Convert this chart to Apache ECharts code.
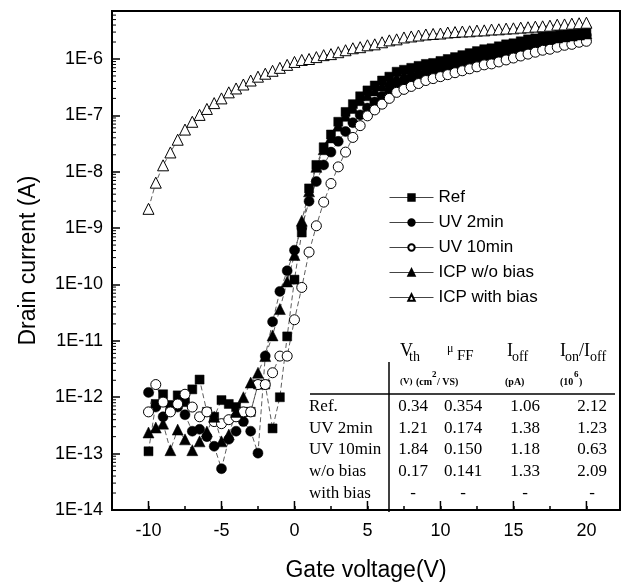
<!DOCTYPE html>
<html><head><meta charset="utf-8">
<script src="https://cdn.jsdelivr.net/npm/echarts@6/dist/echarts.min.js"></script>
<style>html,body{margin:0;padding:0;background:#fff}#c{width:624px;height:587px}</style>
</head><body><div id="c"></div>
<script>
const gateVoltage = [-10,-9.5,-9,-8.5,-8,-7.5,-7,-6.5,-6,-5.5,-5,-4.5,-4,-3.5,-3,-2.5,-2,-1.5,-1,-0.5,
  0,0.5,1,1.5,2,2.5,3,3.5,4,4.5,5,5.5,6,6.5,7,7.5,8,8.5,9,9.5,10,10.5,11,11.5,12,12.5,13,13.5,14,14.5,15,15.5,16,16.5,17,17.5,18,18.5,19,19.5,20];

const refCurrent = [1.1e-13,7.6e-13,1.13e-12,7.3e-13,1.08e-12,8.2e-13,1.38e-12,2.06e-12,5.5e-13,4.5e-13,8.9e-13,7.6e-13,6.7e-13,5.5e-13,5.5e-13,1.68e-12,1.68e-12,2.8e-13,1.0e-12,1.2e-11,
  1.22e-10,8.35e-10,5.06e-9,1.32e-8,2.72e-8,4.58e-8,7.7e-8,1.15e-7,1.58e-7,2.18e-7,2.77e-7,3.39e-7,4.15e-7,4.86e-7,5.94e-7,6.44e-7,6.97e-7,7.55e-7,8.18e-7,8.51e-7,
  9.23e-7,1.0e-6,1.08e-6,1.17e-6,1.27e-6,1.38e-6,1.49e-6,1.55e-6,1.68e-6,1.82e-6,1.9e-6,2.06e-6,2.23e-6,2.32e-6,2.51e-6,2.61e-6,2.72e-6,2.83e-6,2.95e-6,3.07e-6,3.19e-6];

const uv2Current = [1.22e-12,6.7e-13,4.5e-13,5.9e-13,6.7e-13,4.9e-13,2.5e-13,2.7e-13,2.0e-13,1.35e-13,5.4e-14,1.8e-13,2.5e-13,3.7e-13,2.5e-13,1.02e-13,5.4e-12,2.18e-11,7.55e-11,1.75e-10,
  4.06e-10,1.02e-9,3.0e-9,6.7e-9,1.32e-8,2.23e-8,3.46e-8,5.16e-8,7.41e-8,1.02e-7,1.35e-7,1.72e-7,2.18e-7,2.77e-7,3.53e-7,3.98e-7,4.49e-7,5.06e-7,5.48e-7,5.94e-7,
  6.44e-7,6.97e-7,7.55e-7,8.18e-7,8.87e-7,9.62e-7,1.04e-6,1.13e-6,1.22e-6,1.32e-6,1.38e-6,1.49e-6,1.62e-6,1.75e-6,1.82e-6,1.98e-6,2.06e-6,2.23e-6,2.32e-6,2.51e-6,2.61e-6];

const uv10Current = [5.5e-13,1.68e-12,8.2e-13,5.5e-13,7.6e-13,1.13e-12,6.7e-13,4.5e-13,5.5e-13,3.7e-13,3.4e-13,4.0e-13,4.5e-13,5.5e-13,5.5e-13,1.68e-12,1.68e-12,2.72e-12,5.37e-12,5.37e-12,
  2.37e-11,8.87e-11,3.75e-10,1.1e-9,2.89e-9,6.18e-9,1.22e-8,2.23e-8,4.06e-8,6.57e-8,9.8e-8,1.25e-7,1.58e-7,2.0e-7,2.56e-7,2.89e-7,3.26e-7,3.67e-7,4.15e-7,4.49e-7,
  4.86e-7,5.27e-7,5.71e-7,6.18e-7,6.7e-7,7.26e-7,7.87e-7,8.18e-7,8.87e-7,9.62e-7,1.04e-6,1.13e-6,1.22e-6,1.32e-6,1.43e-6,1.49e-6,1.62e-6,1.75e-6,1.82e-6,1.98e-6,2.06e-6];

const icpNoBiasCurrent = [2.37e-13,2.9e-13,3.4e-13,1.15e-13,2.67e-13,1.79e-13,1.15e-13,1.65e-13,2.46e-13,4.5e-13,1.65e-13,2.18e-13,5.5e-13,1.0e-12,1.82e-12,2.72e-12,5.37e-12,1.25e-11,3.67e-11,1.13e-10,
  3.33e-10,1.35e-9,4.49e-9,1.22e-8,2.51e-8,4.06e-8,6.57e-8,9.8e-8,1.35e-7,1.86e-7,2.27e-7,2.77e-7,3.39e-7,3.98e-7,4.68e-7,5.27e-7,5.94e-7,6.44e-7,6.97e-7,7.55e-7,
  8.18e-7,8.87e-7,9.62e-7,1.04e-6,1.13e-6,1.22e-6,1.32e-6,1.38e-6,1.49e-6,1.62e-6,1.68e-6,1.82e-6,1.98e-6,2.06e-6,2.23e-6,2.32e-6,2.41e-6,2.51e-6,2.61e-6,2.72e-6,2.83e-6];

const icpBiasCurrent = [2.2e-9,6.4e-9,1.3e-8,2.2e-8,3.7e-8,5.6e-8,7.7e-8,1.02e-7,1.3e-7,1.65e-7,2.0e-7,2.56e-7,3.0e-7,3.53e-7,4.15e-7,4.86e-7,5.48e-7,6.18e-7,6.97e-7,7.87e-7,
  8.87e-7,9.62e-7,1.0e-6,1.08e-6,1.17e-6,1.22e-6,1.32e-6,1.43e-6,1.55e-6,1.62e-6,1.75e-6,1.82e-6,1.98e-6,2.14e-6,2.23e-6,2.41e-6,2.51e-6,2.61e-6,2.72e-6,2.78e-6,
  2.83e-6,2.95e-6,3.0e-6,3.07e-6,3.1e-6,3.19e-6,3.22e-6,3.33e-6,3.36e-6,3.46e-6,3.5e-6,3.6e-6,3.65e-6,3.75e-6,3.8e-6,3.9e-6,4.06e-6,4.1e-6,4.23e-6,4.3e-6,4.4e-6];

const seriesNames = ['Ref', 'UV 2min', 'UV 10min', 'ICP w/o bias', 'ICP with bias'];
const xTickLabels = [-10, -5, 0, 5, 10, 15, 20];
const yTickLabels = ['1E-14','1E-13','1E-12','1E-11','1E-10','1E-9','1E-8','1E-7','1E-6'];

const tableRowNames = ['Ref.', 'UV 2min', 'UV 10min', 'w/o bias', 'with bias'];
const tableVth = ['0.34', '1.21', '1.84', '0.17', '-'];
const tableMu = ['0.354', '0.174', '0.150', '0.141', '-'];
const tableIoff = ['1.06', '1.38', '1.18', '1.33', '-'];
const tableRatio = ['2.12', '1.23', '0.63', '2.09', '-'];

const X_MIN = -12.5, X_MAX = 22.3, Y_MIN = 1e-14, Y_MAX = 7.1e-6;
const SANS = '"Liberation Sans", Arial, sans-serif';
const SERIF = '"Liberation Serif", "Times New Roman", serif';

const chart = echarts.init(document.getElementById('c'), null, {renderer: 'canvas'});

const yMinorTicks = [];
for (let d = -14; d <= -6; d++) {
  for (let m = 2; m <= 9; m++) {
    const v = m * Math.pow(10, d);
    if (v < Y_MAX) yMinorTicks.push([X_MIN, v]);
  }
}

function pairs(arr) { return gateVoltage.map((v, i) => [v, arr[i]]); }

const lineStyle = {color: '#333', width: 0.8, type: [5, 3]};
const filled = {color: '#000', borderColor: '#000', borderWidth: 0.5};
const open = {color: '#fff', borderColor: '#000', borderWidth: 1};

function mk(name, arr, symbol, size, style) {
  return {
    name, type: 'line', data: pairs(arr), symbol, symbolSize: size,
    showAllSymbol: true, lineStyle, itemStyle: style,
    emphasis: {disabled: true}, animation: false
  };
}

const graphics = [];
function txt(text, x, y, font, align) {
  graphics.push({type: 'text', x, y, silent: true,
    style: {text, font, fill: '#000', align: align || 'left', verticalAlign: 'middle'}});
}
txt('V', 400, 351, '18px ' + SERIF);
txt('th', 409, 357, '14px ' + SERIF);
txt('\u03bc', 447, 349, '12px ' + SERIF);
txt('FF', 457, 356, '15px ' + SERIF);
txt('I', 507, 351, '18px ' + SERIF);
txt('off', 512, 357, '14px ' + SERIF);
txt('I', 560, 351, '18px ' + SERIF);
txt('on', 565, 357, '14px ' + SERIF);
txt('/I', 579, 351, '18px ' + SERIF);
txt('off', 590, 357, '14px ' + SERIF);
txt('(V)', 400, 382, 'bold 9px ' + SERIF);
txt('(cm', 416, 382, 'bold 10px ' + SERIF);
txt('2', 432, 375, 'bold 9px ' + SERIF);
txt('/ VS)', 437, 382, 'bold 10px ' + SERIF);
txt('(pA)', 505, 382, 'bold 10px ' + SERIF);
txt('(10', 560, 382, 'bold 10px ' + SERIF);
txt('6', 574, 375, 'bold 9px ' + SERIF);
txt(')', 579, 382, 'bold 10px ' + SERIF);
const rowY = [407, 429, 450, 472, 494];
const colX = [413, 463, 525, 592];
tableRowNames.forEach((n, i) => {
  txt(n, 309, rowY[i], '17px ' + SERIF);
  txt(tableVth[i], colX[0], rowY[i], '17px ' + SERIF, 'center');
  txt(tableMu[i], colX[1], rowY[i], '17px ' + SERIF, 'center');
  txt(tableIoff[i], colX[2], rowY[i], '17px ' + SERIF, 'center');
  txt(tableRatio[i], colX[3], rowY[i], '17px ' + SERIF, 'center');
});
graphics.push({type: 'line', silent: true, shape: {x1: 310, y1: 394, x2: 615, y2: 394}, style: {stroke: '#000', lineWidth: 1.5}});
graphics.push({type: 'line', silent: true, shape: {x1: 389, y1: 362, x2: 389, y2: 512}, style: {stroke: '#000', lineWidth: 1.5}});

chart.setOption({
  animation: false,
  backgroundColor: '#fff',
  grid: {left: 112, right: 4, top: 11, bottom: 67, show: true, borderColor: '#000', borderWidth: 2, backgroundColor: 'transparent'},
  xAxis: {
    type: 'value', min: X_MIN, max: X_MAX, interval: 2.5,
    axisLine: {onZero: false, lineStyle: {color: '#000', width: 2}},
    axisTick: {inside: true, length: 4, lineStyle: {color: '#000', width: 1.5}},
    axisLabel: {color: '#000', fontSize: 18, fontFamily: SANS, margin: 12,
      formatter: v => xTickLabels.some(t => Math.abs(t - v) < 1e-9) ? String(v) : ''},
    splitLine: {show: false},
    name: 'Gate voltage(V)', nameLocation: 'middle', nameGap: 49,
    nameTextStyle: {color: '#000', fontSize: 23, fontFamily: SANS}
  },
  yAxis: {
    type: 'log', logBase: 10, min: Y_MIN, max: Y_MAX, splitNumber: 9,
    axisLine: {onZero: false, lineStyle: {color: '#000', width: 2}},
    axisTick: {inside: true, length: 8, lineStyle: {color: '#000', width: 1.5}},
    axisLabel: {color: '#000', fontSize: 18, fontFamily: SANS, margin: 9,
      formatter: v => {
        const e = Math.log10(v), r = Math.round(e);
        const s = '1E' + r;
        return (Math.abs(e - r) < 1e-6 && yTickLabels.indexOf(s) >= 0) ? s : '';
      }},
    splitLine: {show: false},
    name: 'Drain current (A)', nameLocation: 'middle', nameGap: 72, nameRotate: 90,
    nameTextStyle: {color: '#000', fontSize: 23, fontFamily: SANS}
  },
  legend: {
    data: seriesNames, orient: 'vertical', left: 384, top: 184,
    itemWidth: 44, itemHeight: 8, itemGap: 8,
    textStyle: {color: '#000', fontSize: 17, fontFamily: SANS, lineHeight: 17},
    lineStyle: {type: 'solid', color: '#444', width: 1},
    selectedMode: false
  },
  series: [
    mk('Ref', refCurrent, 'rect', 9, filled),
    mk('UV 2min', uv2Current, 'circle', 10, filled),
    mk('UV 10min', uv10Current, 'circle', 10, open),
    mk('ICP w/o bias', icpNoBiasCurrent, 'triangle', 11, filled),
    mk('ICP with bias', icpBiasCurrent, 'triangle', 11, open),
    {
      type: 'custom', silent: true, animation: false, z: 5, clip: false,
      data: yMinorTicks,
      renderItem: (params, api) => {
        const p = api.coord([api.value(0), api.value(1)]);
        return {type: 'line', shape: {x1: p[0], y1: p[1], x2: p[0] + 4, y2: p[1]}, style: {stroke: '#000', lineWidth: 1}};
      }
    },
    {
      type: 'custom', silent: true, animation: false, z: 5, clip: false,
      data: xTickLabels.map(v => [v, Y_MIN]),
      renderItem: (params, api) => {
        const p = api.coord([api.value(0), api.value(1)]);
        return {type: 'line', shape: {x1: p[0], y1: p[1], x2: p[0], y2: p[1] - 9}, style: {stroke: '#000', lineWidth: 1.5}};
      }
    }
  ],
  graphic: graphics
});
</script></body></html>
